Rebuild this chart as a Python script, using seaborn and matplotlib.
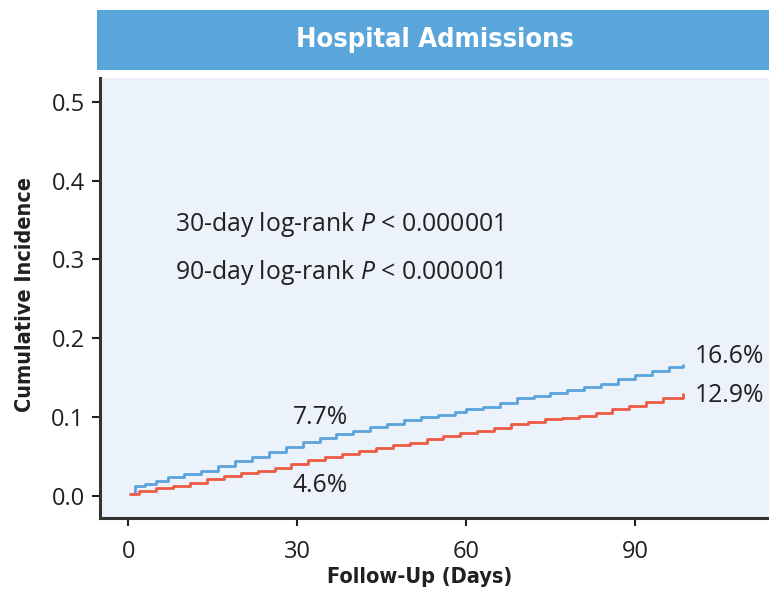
import matplotlib
matplotlib.use("Agg")
import matplotlib.pyplot as plt
from matplotlib import font_manager as fm
from matplotlib.patches import Rectangle
import seaborn as sns
import pandas as pd

# ---- data ----
blue_days = [1.0, 1.3, 3, 5, 7, 10, 13, 16, 19, 22, 25, 28, 31, 34, 37, 40, 43, 46, 49,
             52, 55, 58, 60, 63, 66, 69, 72, 75, 78, 81, 84, 87, 90, 93, 96, 98.5]
blue_vals = [0.004, 0.012, 0.015, 0.019, 0.024, 0.028, 0.032, 0.038, 0.044, 0.050, 0.056,
             0.062, 0.068, 0.074, 0.078, 0.083, 0.087, 0.091, 0.096, 0.100, 0.103, 0.106,
             0.110, 0.113, 0.118, 0.124, 0.127, 0.131, 0.134, 0.138, 0.142, 0.148, 0.154,
             0.159, 0.164, 0.166]
red_days = [0.4, 2, 5, 8, 11, 14, 17, 20, 23, 26, 29, 32, 35, 38, 41, 44, 47, 50, 53, 56,
            59, 62, 65, 68, 71, 74, 77, 80, 83, 86, 89, 92, 95, 98.5]
red_vals = [0.002, 0.006, 0.010, 0.013, 0.017, 0.021, 0.025, 0.029, 0.032, 0.036, 0.040,
            0.045, 0.049, 0.053, 0.057, 0.061, 0.064, 0.067, 0.072, 0.076, 0.080, 0.083,
            0.086, 0.091, 0.094, 0.097, 0.099, 0.102, 0.105, 0.110, 0.114, 0.119, 0.124,
            0.129]
groups = ["Blue", "Red"]
colors = ["#5aa3db", "#ef5a45"]
x_ticks = [0, 30, 60, 90]
y_ticks = [0.0, 0.1, 0.2, 0.3, 0.4, 0.5]
end_labels = ["16.6%", "12.9%"]
day30_labels = ["7.7%", "4.6%"]
title = "Hospital Admissions"
x_label = "Follow-Up (Days)"
y_label = "Cumulative Incidence"
pvals = ["30-day log-rank $P$ < 0.000001", "90-day log-rank $P$ < 0.000001"]

df = pd.concat([
    pd.DataFrame({"day": blue_days, "ci": blue_vals, "group": groups[0]}),
    pd.DataFrame({"day": red_days, "ci": red_vals, "group": groups[1]}),
])

# find a condensed bold font if one is installed
cond = None
for f in fm.fontManager.ttflist:
    st = str(f.stretch).lower()
    if (("condensed" in f.name.lower() or "narrow" in f.name.lower() or
         st in ("condensed", "semi-condensed", "extra-condensed")) and
            (f.weight in ("bold", 700) or (isinstance(f.weight, int) and f.weight >= 600))):
        cond = f
        break
if cond is not None:
    bold_fp = fm.FontProperties(fname=cond.fname)
    cond_found = True
else:
    bold_fp = fm.FontProperties(family="Roboto", weight="bold")
    cond_found = False

sns.set_theme(style="white")
plt.rcParams["font.family"] = ["Open Sans", "DejaVu Sans"]
plt.rcParams["mathtext.fontset"] = "custom"
plt.rcParams["mathtext.it"] = "Open Sans:italic"
plt.rcParams["mathtext.rm"] = "Open Sans"
txt = "#231f20"

fig = plt.figure(figsize=(7.69, 5.92), dpi=100)
fig.patch.set_facecolor("white")
ax = fig.add_axes([0.130, 0.125, 0.870, 0.743])
ax.set_facecolor("#ebf2fa")

sns.lineplot(data=df, x="day", y="ci", hue="group", palette=dict(zip(groups, colors)),
             drawstyle="steps-post", linewidth=2.0, legend=False, ax=ax, estimator=None)

ax.set_xlim(-5, 113.8)
ax.set_ylim(-0.028, 0.530)
ax.set_xticks(x_ticks)
ax.set_xticklabels([str(t) for t in x_ticks])
ax.set_yticks(y_ticks)
ax.set_yticklabels([f"{t:.1f}" for t in y_ticks])
ax.tick_params(axis="both", labelsize=17, colors=txt, length=6, width=1.5,
               direction="out", bottom=True, left=True, pad=5)
ax.tick_params(axis="x", pad=10)
for s in ["top", "right"]:
    ax.spines[s].set_visible(False)
for s in ["left", "bottom"]:
    ax.spines[s].set_color("#333333")
    ax.spines[s].set_linewidth(2.2)
ax.set_xlabel("")
ax.set_ylabel("")

lab_size = 15.6 if cond_found else 14
fig.text(0.546, 0.026, x_label, color=txt, ha="center", va="center",
         fontproperties=bold_fp, fontsize=lab_size)
fig.text(0.033, 0.502, y_label, color=txt, ha="center", va="center", rotation=90,
         fontproperties=bold_fp, fontsize=lab_size)

fs = 17.8
ax.text(8.3, 0.344, pvals[0], fontsize=fs, color=txt, va="center", ha="left")
ax.text(8.3, 0.284, pvals[1], fontsize=fs, color=txt, va="center", ha="left")
ax.text(34.1, 0.100, day30_labels[0], fontsize=fs, color=txt, va="center", ha="center")
ax.text(34.1, 0.013, day30_labels[1], fontsize=fs, color=txt, va="center", ha="center")
ax.text(100.6, 0.177, end_labels[0], fontsize=fs, color=txt, va="center", ha="left")
ax.text(100.6, 0.127, end_labels[1], fontsize=fs, color=txt, va="center", ha="left")

# title band
band = Rectangle((0.126, 0.882), 0.874, 0.101, transform=fig.transFigure,
                 facecolor="#5aa6db", edgecolor="none", zorder=0)
fig.patches.append(band)
fig.text(0.566, 0.932, title, color="white", ha="center", va="center",
         fontproperties=bold_fp, fontsize=(19.5 if cond_found else 18))

fig.savefig("out.png", dpi=100)
